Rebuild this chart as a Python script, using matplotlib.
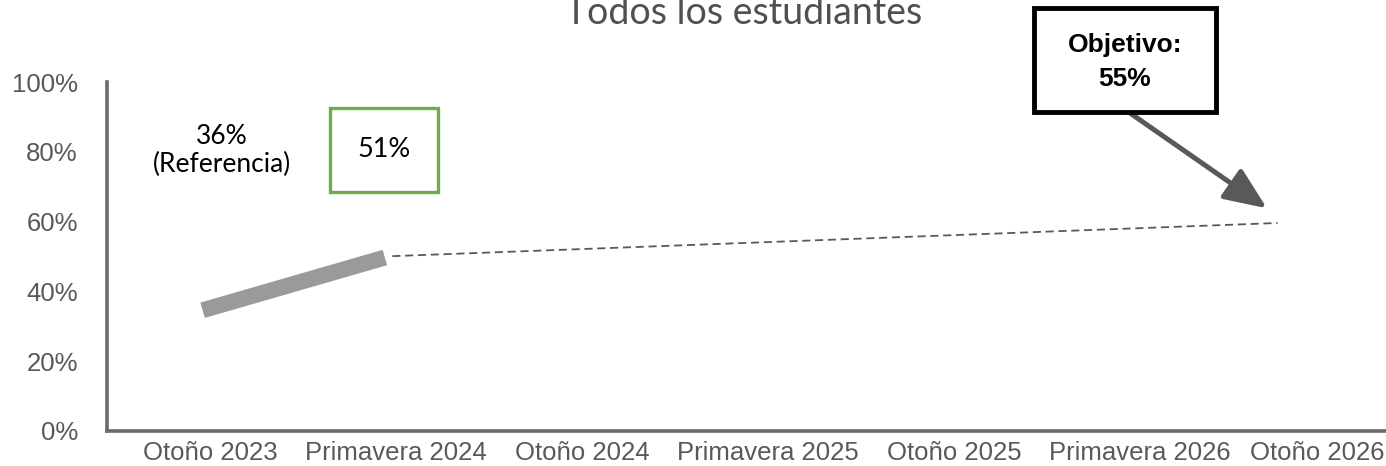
import matplotlib
matplotlib.use("Agg")
import matplotlib.pyplot as plt
from matplotlib.patches import Rectangle, FancyArrowPatch, ArrowStyle
from matplotlib.transforms import ScaledTranslation

# ---- data ----
categories = ["Otoño 2023", "Primavera 2024", "Otoño 2024", "Primavera 2025",
              "Otoño 2025", "Primavera 2026", "Otoño 2026"]
actual_x = [-0.04, 0.94]          # category positions of the measured line
actual_y = [0.346, 0.497]
projection_x = [0.98, 5.74]       # dashed projection
projection_y = [0.501, 0.596]
y_ticks = [0.0, 0.2, 0.4, 0.6, 0.8, 1.0]
title = "Todos los estudiantes"
baseline_label = "36%\n(Referencia)"
current_label = "51%"
target_label = "Objetivo:\n55%"

W, H, DPI = 1386, 466, 100
fig = plt.figure(figsize=(W / DPI, H / DPI), dpi=DPI)
ax_left, ax_bottom, ax_top = 107 / W, (H - 431) / H, (H - 82) / H
ax = fig.add_axes([ax_left, ax_bottom, 1 - ax_left, ax_top - ax_bottom])

GRAY_TXT = "#595959"
SPINE = "#6b6b6b"

ax.plot(actual_x, actual_y, color="#9a9a9a", lw=11.5, solid_capstyle="butt", clip_on=False)
ax.plot(projection_x, projection_y, color="#595959", lw=1.3, dashes=(4.5, 2.6), clip_on=False)

ax.set_xlim(-0.554, 6.323)
ax.set_ylim(0, 1)
ax.set_xticks(range(len(categories)))
ax.set_xticklabels(categories)
ax.set_yticks(y_ticks)
ax.set_yticklabels([f"{int(round(v * 100))}%" for v in y_ticks])

for s in ["top", "right"]:
    ax.spines[s].set_visible(False)
for s in ["left", "bottom"]:
    ax.spines[s].set_color(SPINE)
    ax.spines[s].set_linewidth(2.6)
ax.tick_params(axis="both", length=0, labelcolor=GRAY_TXT)
ax.tick_params(axis="y", pad=21)
ax.tick_params(axis="x", pad=7)
for lbl in ax.get_xticklabels() + ax.get_yticklabels():
    lbl.set_fontfamily("Liberation Sans")
    lbl.set_fontsize(18.5)

# shift last x label left so it fits
last = ax.get_xticklabels()[-1]
last.set_transform(last.get_transform() + ScaledTranslation(-9 / DPI, 0, fig.dpi_scale_trans))

# title (partly cut at the top edge, as in the reference)
fig.text(744 / W, 1 - 24 / H, title, ha="center", va="baseline",
         fontfamily="Lato", fontweight="normal", fontsize=27, color="#505050")

# baseline annotation
ax.text(0.065, 0.803, baseline_label, ha="center", va="center", fontfamily="Lato",
        fontsize=19, color="black", linespacing=1.15)

# current value box
ax.add_patch(Rectangle((0.645, 0.684), 1.226 - 0.645, 0.926 - 0.684, fill=False,
                       edgecolor="#70AD47", lw=2.4, clip_on=False))
ax.text(0.935, 0.807, current_label, ha="center", va="center", fontfamily="Lato",
        fontsize=19.5, color="black")

# target box
ax.add_patch(Rectangle((4.43, 0.915), 5.41 - 4.43, 1.211 - 0.915, fill=True, facecolor="white",
                       edgecolor="black", lw=3.5, clip_on=False, zorder=5))
ax.text(4.92, 1.057, target_label, ha="center", va="center", fontfamily="Liberation Sans",
        fontweight="bold", fontsize=19, color="black", linespacing=1.5, zorder=6, clip_on=False)

arrow = FancyArrowPatch((4.92, 0.921), (5.683, 0.638),
                        arrowstyle=ArrowStyle("-|>", head_length=1.3, head_width=0.55),
                        mutation_scale=20, color="#595959", lw=3.6,
                        shrinkA=0, shrinkB=0, clip_on=False, zorder=4)
ax.add_patch(arrow)

fig.savefig("out.png", dpi=DPI)
